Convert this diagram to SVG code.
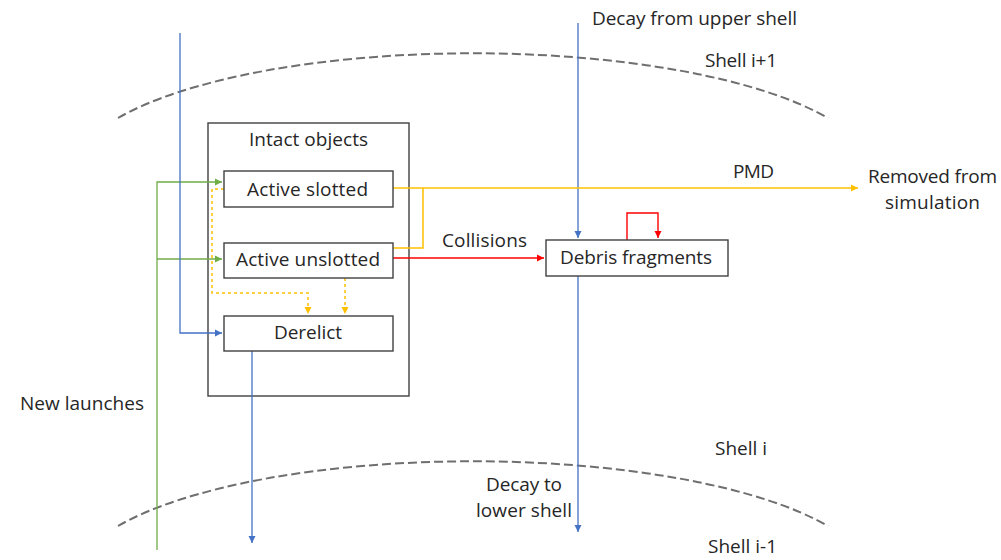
<svg xmlns="http://www.w3.org/2000/svg" width="1001" height="560" viewBox="0 0 1001 560">
  <defs>
    <marker id="ah-blue" markerWidth="8" markerHeight="8" refX="7" refY="4" orient="auto" markerUnits="userSpaceOnUse">
      <path d="M0,0.5 L7,4 L0,7.5 Z" fill="#4472C4"/>
    </marker>
    <marker id="ah-green" markerWidth="8" markerHeight="8" refX="7" refY="4" orient="auto" markerUnits="userSpaceOnUse">
      <path d="M0,0.5 L7,4 L0,7.5 Z" fill="#70AD47"/>
    </marker>
    <marker id="ah-yellow" markerWidth="8" markerHeight="8" refX="7" refY="4" orient="auto" markerUnits="userSpaceOnUse">
      <path d="M0,0.5 L7,4 L0,7.5 Z" fill="#FFC000"/>
    </marker>
    <marker id="ah-red" markerWidth="8" markerHeight="8" refX="7" refY="4" orient="auto" markerUnits="userSpaceOnUse">
      <path d="M0,0.5 L7,4 L0,7.5 Z" fill="#FF0000"/>
    </marker>
  </defs>
  <style>
    text { font-family: "Open Sans", "Noto Sans", "Liberation Sans", sans-serif; font-size: 19px; fill: #262626; }
    .box { fill: #fff; stroke: #404040; stroke-width: 1.4; }
    .shell { fill: none; stroke: #6f6f6f; stroke-width: 2; stroke-dasharray: 9 4; }
    .blue { fill: none; stroke: #4472C4; stroke-width: 1.3; }
    .green { fill: none; stroke: #70AD47; stroke-width: 1.3; }
    .yellow { fill: none; stroke: #FFC000; stroke-width: 1.5; }
    .ydash { fill: none; stroke: #FFC000; stroke-width: 1.5; stroke-dasharray: 3 3; }
    .red { fill: none; stroke: #FF0000; stroke-width: 1.4; }
  </style>
  <rect width="1001" height="560" fill="#fff"/>

  <!-- shell boundaries -->
  <g id="shells">
    <path class="shell" d="M118,118 A400,120 0 0 1 828,118"/>
    <path class="shell" d="M118,526 A400,120 0 0 1 828,526"/>
  </g>

  <!-- container -->
  <g id="intact-objects">
    <rect class="box" x="208" y="123" width="201" height="273"/>
    <text x="249" y="146" textLength="119">Intact objects</text>
  </g>

  <!-- flows -->
  <g id="connectors">
    <path class="green" d="M157,550 V182 H222" marker-end="url(#ah-green)"/>
    <path class="green" d="M157,259 H222" marker-end="url(#ah-green)"/>
    <path class="blue" d="M180,33 V333 H222" marker-end="url(#ah-blue)"/>
    <path class="blue" d="M578,23 V238" marker-end="url(#ah-blue)"/>
    <path class="blue" d="M578,276 V532" marker-end="url(#ah-blue)"/>
    <path class="blue" d="M252,351 V543" marker-end="url(#ah-blue)"/>
    <path class="yellow" d="M393,188 H858" marker-end="url(#ah-yellow)"/>
    <path class="yellow" d="M393,248 H423 V188"/>
    <path class="ydash" d="M224,189 H212 V293 H308 V314" marker-end="url(#ah-yellow)"/>
    <path class="ydash" d="M345,278 V314" marker-end="url(#ah-yellow)"/>
    <path class="red" d="M393,258 H544" marker-end="url(#ah-red)"/>
    <path class="red" d="M627,240 V213 H658 V238" marker-end="url(#ah-red)"/>
  </g>

  <g id="active-slotted">
    <rect class="box" x="224" y="171" width="169" height="36"/>
    <text x="247" y="196" textLength="121">Active slotted</text>
  </g>
  <g id="active-unslotted">
    <rect class="box" x="224" y="243" width="169" height="35"/>
    <text x="236" y="266" textLength="144">Active unslotted</text>
  </g>
  <g id="derelict">
    <rect class="box" x="224" y="316" width="169" height="35"/>
    <text x="274" y="339" textLength="68">Derelict</text>
  </g>
  <g id="debris-fragments">
    <rect class="box" x="546" y="240" width="182" height="36"/>
    <text x="560" y="264" textLength="152">Debris fragments</text>
  </g>

  <!-- labels -->
  <g id="labels">
    <text x="592" y="25" textLength="205">Decay from upper shell</text>
    <text x="705" y="67" textLength="72">Shell i+1</text>
    <text x="733" y="178" textLength="41">PMD</text>
    <text x="868" y="183" textLength="129">Removed from</text>
    <text x="885" y="209" textLength="95">simulation</text>
    <text x="442" y="247" textLength="85">Collisions</text>
    <text x="20" y="410" textLength="124">New launches</text>
    <text x="715" y="455" textLength="52">Shell i</text>
    <text x="486" y="491" textLength="76">Decay to</text>
    <text x="476" y="517" textLength="96">lower shell</text>
    <text x="708" y="553" textLength="69">Shell i-1</text>
  </g>
</svg>
